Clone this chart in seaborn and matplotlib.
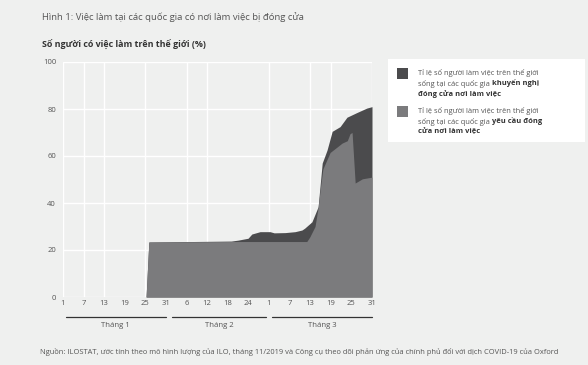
import matplotlib
matplotlib.use('Agg')
import matplotlib.pyplot as plt
import matplotlib.transforms as mtransforms
from matplotlib.patches import Rectangle
import seaborn as sns

# day of year 2020 (1 = Jan 1, 91 = Mar 31)
total_days = [1, 25, 25.2, 26, 50, 52, 54.9, 56, 58.4, 61.3, 62.5, 65.7, 68.6, 70.6, 71.4,
              73.5, 75.3, 76.5, 77.9, 79.4, 81.7, 83.7, 86.6, 89.5, 91]
total_vals = [0, 0, 0, 23.4, 23.8, 24.2, 25, 26.8, 27.8, 27.8, 27.3, 27.4, 27.8, 28.5, 29.3,
              32, 38.4, 57, 62.5, 70.5, 72.5, 76.5, 78.5, 80.4, 81]
require_days = [1, 25, 25.2, 26, 50, 72, 72.9, 74.4, 75.3, 76.1, 76.7, 78.8, 82.3, 83.8, 84.6,
                85.2, 86.1, 88.2, 91]
require_vals = [0, 0, 0, 23.4, 23.6, 23.6, 25.6, 30, 38, 48, 54.5, 61.5, 65.5, 66.5, 69.5,
                70, 48.5, 50.3, 51]

tick_days = [1, 7, 13, 19, 25, 31, 37, 43, 49, 55, 61, 67, 73, 79, 85, 91]
tick_labels = ['1', '7', '13', '19', '25', '31', '6', '12', '18', '24', '1', '7', '13', '19', '25', '31']
grid_days = [1, 7, 13, 25, 37, 43, 61, 73, 79, 91]
months = ['Tháng 1', 'Tháng 2', 'Tháng 3']
month_start = [1, 32, 61]
month_end = [31, 60, 91]

bg = '#eff0ef'
dark = '#4b4b4d'
light = '#7b7b7d'
txt = '#555555'

sns.set_theme(style='whitegrid', rc={'axes.facecolor': bg, 'figure.facecolor': bg,
                                     'grid.color': 'white', 'grid.linewidth': 1.0})
plt.rcParams['font.family'] = ['Open Sans', 'DejaVu Sans']

fig = plt.figure(figsize=(5.88, 3.65), dpi=100)
ax = fig.add_axes([63 / 588, 1 - 297 / 365, (372 - 63) / 588, (297 - 62) / 365])

ax.fill_between(total_days, 0, total_vals, color=dark, lw=0, zorder=2)
ax.fill_between(require_days, 0, require_vals, color=light, lw=0, zorder=3)

ax.set_xlim(1, 91)
ax.set_ylim(0, 100)
ax.set_yticks([0, 20, 40, 60, 80, 100])
ax.set_xticks(tick_days)
ax.set_xticklabels(tick_labels)
ax.grid(axis='x', visible=False)
for d in grid_days:
    ax.axvline(d, color='white', lw=1.0, zorder=1)
ax.tick_params(axis='both', length=0, labelsize=5.5, colors=txt)
ax.tick_params(axis='x', pad=2)
ax.tick_params(axis='y', pad=5)
for s in ax.spines.values():
    s.set_visible(False)

# month brackets under the axis
trans = mtransforms.blended_transform_factory(ax.transData, ax.transAxes)
for name, a, b in zip(months, month_start, month_end):
    ax.plot([a + 0.8, b], [-0.085, -0.085], color='#333333', lw=0.9, transform=trans, clip_on=False)
    ax.text((a + b) / 2 + 0.4, -0.12, name, transform=trans, ha='center', va='center',
            fontsize=5.6, color=txt)

fig.text(42 / 588, 1 - 17 / 365, 'Hình 1: Việc làm tại các quốc gia có nơi làm việc bị đóng cửa',
         fontsize=6.8, color=txt, va='center')
fig.text(42 / 588, 1 - 45 / 365, 'Số người có việc làm trên thế giới (%)',
         fontsize=6.4, color='#333333', fontweight='bold', va='center')
fig.text(40 / 588, 1 - 352 / 365,
         'Nguồn: ILOSTAT, ước tính theo mô hình lượng của ILO, tháng 11/2019 và Công cụ theo dõi phản ứng '
         'của chính phủ đối với dịch COVID-19 của Oxford',
         fontsize=5.4, color=txt, va='center')

# legend box
fig.patches.append(Rectangle((388 / 588, 1 - 142 / 365), 197 / 588, 83 / 365,
                             transform=fig.transFigure, facecolor='white', edgecolor='none'))
entries = [
    (dark, 68, ['Tỉ lệ số người làm việc trên thế giới', 'sống tại các quốc gia '],
     ['khuyến nghị', 'đóng cửa nơi làm việc']),
    (light, 106, ['Tỉ lệ số người làm việc trên thế giới', 'sống tại các quốc gia '],
     ['yêu cầu đóng', 'cửa nơi làm việc']),
]
fig.canvas.draw()
renderer = fig.canvas.get_renderer()
for color, top, normal, bold in entries:
    fig.patches.append(Rectangle((397 / 588, 1 - (top + 11) / 365), 11 / 588, 11 / 365,
                                 transform=fig.transFigure, facecolor=color, edgecolor='none'))
    y0 = top + 5
    fig.text(418 / 588, 1 - y0 / 365, normal[0], fontsize=5.4, color=txt, va='center')
    t = fig.text(418 / 588, 1 - (y0 + 10.5) / 365, normal[1], fontsize=5.4, color=txt, va='center')
    bb = t.get_window_extent(renderer)
    fig.text(bb.x1 / fig.bbox.width, 1 - (y0 + 10.5) / 365, bold[0], fontsize=5.4,
             color='#333333', fontweight='bold', va='center')
    fig.text(418 / 588, 1 - (y0 + 21) / 365, bold[1], fontsize=5.4, color='#333333',
             fontweight='bold', va='center')

fig.savefig('out.png', dpi=100, facecolor=bg)
